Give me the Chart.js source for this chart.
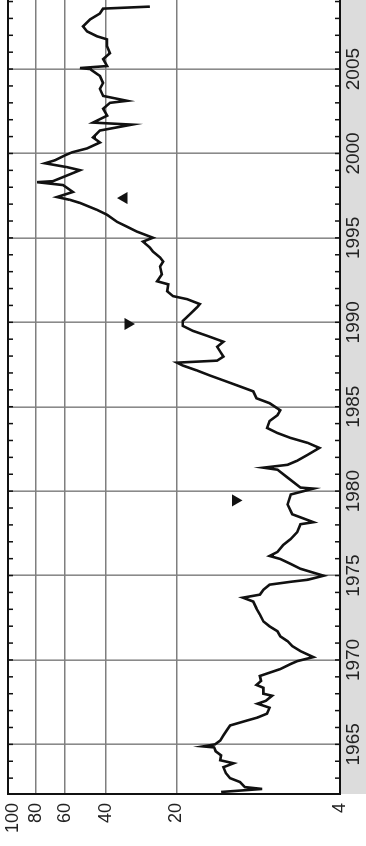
<!DOCTYPE html>
<html>
<head>
<meta charset="utf-8">
<script src="https://cdn.jsdelivr.net/npm/chart.js@4.4.1/dist/chart.umd.min.js"></script>
<style>
  html, body { margin: 0; padding: 0; background: #fff; overflow: hidden; }
  body { width: 366px; height: 846px; position: relative; }
  /* chart is drawn lying down and turned a quarter turn to stand up */
  #wrap {
    position: absolute; left: 0; top: 846px;
    width: 880px; height: 366px;
    transform-origin: 0 0; transform: rotate(-90deg);
  }
</style>
</head>
<body>
<div id="wrap"><canvas id="chart" width="880" height="366"></canvas></div>
<script>
// series (year, value)
const years = [
  1962.18, 1962.36, 1962.47, 1962.77, 1963.00, 1963.30, 1963.65, 1963.88, 1964.06, 1964.35,
  1964.59, 1964.82, 1964.88, 1965.00, 1965.23, 1965.53, 1965.82, 1966.12, 1966.41, 1966.59,
  1966.82, 1967.17, 1967.41, 1967.58, 1967.88, 1968.00, 1968.35, 1968.52, 1968.76, 1969.05,
  1969.46, 1969.76, 1969.93, 1970.17, 1970.52, 1970.82, 1971.11, 1971.40, 1971.70, 1971.99,
  1972.28, 1972.69, 1973.05, 1973.46, 1973.69, 1973.87, 1974.16, 1974.46, 1974.63, 1974.75,
  1974.99, 1975.10, 1975.40, 1975.69, 1975.98, 1976.16, 1976.40, 1976.81, 1977.16, 1977.57,
  1978.04, 1978.16, 1978.63, 1979.21, 1979.80, 1980.15, 1980.21, 1980.80, 1981.27, 1981.39,
  1981.56, 1981.80, 1982.15, 1982.56, 1982.86, 1983.15, 1983.44, 1983.74, 1984.15, 1984.50,
  1984.79, 1985.21, 1985.50, 1985.91, 1986.20, 1986.56, 1986.85, 1987.14, 1987.44, 1987.61,
  1987.73, 1987.97, 1988.26, 1988.55, 1988.85, 1989.20, 1989.49, 1989.79, 1990.08, 1990.49,
  1990.90, 1991.08, 1991.37, 1991.55, 1991.84, 1992.25, 1992.43, 1992.84, 1993.31, 1993.60,
  1993.84, 1994.19, 1994.43, 1994.78, 1995.01, 1995.37, 1995.66, 1995.95, 1996.37, 1996.66,
  1997.07, 1997.25, 1997.42, 1997.72, 1998.13, 1998.30, 1998.36, 1998.60, 1999.01, 1999.19,
  1999.42, 1999.60, 1999.89, 2000.07, 2000.30, 2000.65, 2000.95, 2001.36, 2001.71, 2001.83,
  2002.24, 2002.65, 2003.00, 2003.12, 2003.41, 2003.83, 2004.18, 2004.59, 2005.00, 2005.06,
  2005.18, 2005.59, 2005.94, 2006.35, 2006.76, 2006.94, 2007.23, 2007.53, 2007.94, 2008.29,
  2008.58, 2008.70
];
const values = [
  12.9, 8.6, 10.2, 10.7, 11.8, 12.3, 12.6, 11.4, 13.0, 12.9,
  13.6, 13.8, 15.4, 13.7, 13.0, 12.6, 12.2, 11.8, 10.0, 9.0,
  8.2, 8.0, 9.0, 8.3, 7.8, 8.5, 8.5, 9.1, 8.7, 8.8,
  7.2, 6.5, 6.1, 5.2, 5.9, 6.4, 6.7, 7.2, 7.4, 8.0,
  8.5, 8.8, 9.1, 9.4, 10.4, 8.8, 8.5, 8.0, 6.5, 5.5,
  4.7, 5.0, 5.9, 6.5, 7.2, 8.0, 7.4, 7.0, 6.5, 6.1,
  5.9, 5.2, 6.4, 6.7, 6.5, 5.2, 5.9, 6.7, 7.4, 8.5,
  6.7, 6.1, 5.5, 4.9, 5.5, 6.5, 7.4, 8.2, 8.0, 7.4,
  7.2, 8.0, 9.1, 9.4, 10.7, 12.6, 14.4, 16.3, 18.8, 19.9,
  13.4, 12.6, 13.0, 13.4, 12.6, 14.8, 17.0, 18.8, 18.8, 17.5,
  16.3, 15.9, 18.0, 20.7, 21.9, 21.7, 24.2, 23.1, 23.5, 22.8,
  23.5, 25.2, 26.0, 27.8, 25.2, 29.5, 32.5, 35.9, 39.6, 43.7,
  51.7, 57.0, 64.8, 55.4, 61.1, 78.9, 67.4, 61.1, 51.7, 58.7,
  72.9, 66.1, 59.9, 55.9, 48.2, 42.5, 45.5, 42.5, 31.0, 45.5,
  39.6, 41.2, 38.5, 32.5, 41.2, 42.5, 41.2, 42.5, 46.8, 51.7,
  39.6, 41.2, 38.5, 39.6, 39.6, 43.7, 48.2, 50.2, 46.8, 42.5,
  41.2, 26.0
];

// triangle markers: up = 0, down = 180
const markerYears = [1997.36, 1989.90, 1979.45];
const markerValues = [33.5, 32.2, 11.2];
const markerTurns = [0, 180, 180];

// axis ticks
const valueTicks = [4, 20, 40, 60, 80, 100];
const yearTicks = [1965, 1970, 1975, 1980, 1985, 1990, 1995, 2000, 2005];

const linePoints = years.map((yr, i) => ({ x: yr, y: values[i] }));
const markerPoints = markerYears.map((yr, i) => ({ x: yr, y: markerValues[i] }));

const font = "'Liberation Sans', Arial, sans-serif";

// grey band behind the year labels, frame and yearly tick marks
const framePlugin = {
  id: 'frame',
  beforeDraw(chart) {
    const { ctx, chartArea } = chart;
    ctx.save();
    ctx.fillStyle = '#dcdcdc';
    ctx.fillRect(chartArea.left, chartArea.bottom, chart.width - chartArea.left, chart.height - chartArea.bottom);
    ctx.restore();
  },
  afterDatasetsDraw(chart) {
    const { ctx, chartArea } = chart;
    const xs = chart.scales.x;
    ctx.save();
    ctx.strokeStyle = '#111';
    ctx.lineWidth = 1.5;
    ctx.beginPath();
    for (let yr = Math.ceil(xs.min); yr <= xs.max; yr++) {
      const px = xs.getPixelForValue(yr);
      ctx.moveTo(px, chartArea.top);
      ctx.lineTo(px, chartArea.top + 5);
      ctx.moveTo(px, chartArea.bottom);
      ctx.lineTo(px, chartArea.bottom - 5);
    }
    ctx.stroke();
    ctx.lineWidth = 2;
    ctx.strokeRect(chartArea.left, chartArea.top, chartArea.right - chartArea.left + 5, chartArea.bottom - chartArea.top);
    ctx.restore();
  }
};

new Chart(document.getElementById('chart'), {
  type: 'line',
  data: {
    datasets: [
      {
        data: linePoints,
        borderColor: '#111',
        borderWidth: 2.6,
        pointRadius: 0,
        tension: 0
      },
      {
        type: 'scatter',
        data: markerPoints,
        pointStyle: 'triangle',
        pointRadius: 7,
        pointRotation: markerTurns,
        backgroundColor: '#111',
        borderColor: '#111',
        borderWidth: 0
      }
    ]
  },
  options: {
    responsive: false,
    animation: false,
    layout: { padding: { top: 8, right: 0, left: 0, bottom: 0 } },
    plugins: {
      legend: { display: false },
      tooltip: { enabled: false }
    },
    scales: {
      x: {
        type: 'linear',
        position: 'bottom',
        min: 1962.06,
        max: 2010.69,
        afterBuildTicks: scale => { scale.ticks = yearTicks.map(v => ({ value: v })); },
        afterFit: scale => { scale.height = 26; scale.paddingLeft = 0; scale.paddingRight = 0; },
        border: { display: false },
        grid: { color: '#8a8a8a', lineWidth: 1.6, drawTicks: false },
        ticks: {
          autoSkip: false,
          maxRotation: 0,
          padding: 2,
          color: '#222',
          font: { family: font, size: 19 },
          callback: v => String(v)
        }
      },
      y: {
        type: 'logarithmic',
        min: 4,
        max: 105,
        afterBuildTicks: scale => { scale.ticks = valueTicks.map(v => ({ value: v })); },
        afterFit: scale => { scale.width = 52; scale.paddingTop = 0; scale.paddingBottom = 0; },
        border: { display: false },
        grid: {
          drawTicks: false,
          lineWidth: 1.6,
          color: c => (c.tick && (c.tick.value === 4 || c.tick.value === 100)) ? 'rgba(0,0,0,0)' : '#7f7f7f'
        },
        ticks: {
          autoSkip: false,
          padding: 9,
          color: '#222',
          font: { family: font, size: 18 },
          callback: v => String(v)
        }
      }
    }
  },
  plugins: [framePlugin]
});
</script>
</body>
</html>
